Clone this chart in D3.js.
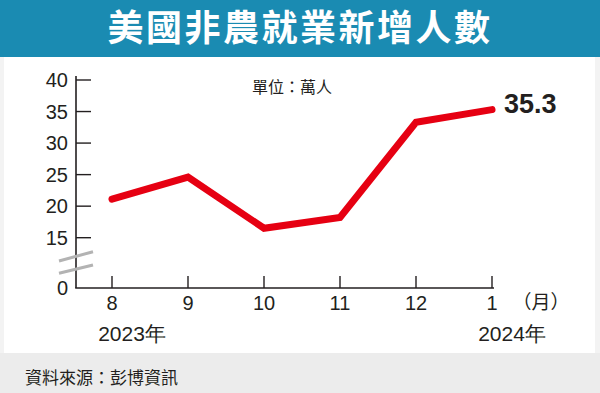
<!DOCTYPE html>
<html><head><meta charset="utf-8">
<script src="https://cdn.jsdelivr.net/npm/d3@7"></script>
<style>
html,body{margin:0;padding:0;background:#fff;}
svg{display:block;}
</style></head>
<body>
<svg id="c" width="600" height="393"></svg>
<script>
const months = ["8","9","10","11","12","1"];
const values = [21.1, 24.6, 16.5, 18.2, 33.3, 35.3];
const yTicks = [0, 15, 20, 25, 30, 35, 40];
const years = [{m:"8", label:"2023年"}, {m:"1", label:"2024年"}];
const title = "美國非農就業新增人數";
const unitLabel = "單位：萬人";
const sourceLabel = "資料來源：彭博資訊";
const lastLabel = "35.3";

const svg = d3.select("#c");
const cjk = "'Noto Sans CJK TC','Noto Sans CJK SC',sans-serif";
const num = "'Liberation Sans Narrow','Liberation Sans',Arial,sans-serif";

svg.append("rect").attr("x",0).attr("y",0).attr("width",600).attr("height",393).attr("fill","#f3f3f3");
svg.append("rect").attr("x",4).attr("y",56).attr("width",591).attr("height",297).attr("fill","#fff");
svg.append("rect").attr("x",0).attr("y",353).attr("width",600).attr("height",40).attr("fill","#ececec");
svg.append("rect").attr("x",0).attr("y",0).attr("width",600).attr("height",57).attr("fill","#1a8bb2");

svg.append("text").attr("x",300).attr("y",41).attr("text-anchor","middle")
  .attr("fill","#fff").attr("font-family",cjk).attr("font-weight","bold")
  .attr("font-size",36).attr("letter-spacing",2.5).text(title);

const x = d3.scalePoint().domain(months).range([112, 492]);
const y = d3.scaleLinear().domain([0, 15, 40]).range([288, 237.7, 80]);

svg.append("line").attr("x1",76).attr("x2",76).attr("y1",76).attr("y2",288)
  .attr("stroke","#231f20").attr("stroke-width",1.6);
svg.append("line").attr("x1",75.2).attr("x2",494).attr("y1",288).attr("y2",288)
  .attr("stroke","#231f20").attr("stroke-width",1.6);

yTicks.forEach(t=>{
  if(t>0){
    svg.append("line").attr("x1",76).attr("x2",91).attr("y1",y(t)).attr("y2",y(t))
      .attr("stroke","#231f20").attr("stroke-width",1.4);
  }
  svg.append("text").attr("x",68).attr("y",y(t)+7).attr("text-anchor","end")
    .attr("font-family",num).attr("font-size",20).attr("fill","#231f20").text(t);
});

[[261,251.7],[273.3,265]].forEach(([a,b])=>{
  svg.append("line").attr("x1",59).attr("x2",93).attr("y1",a).attr("y2",b)
    .attr("stroke","#b3b3b3").attr("stroke-width",3);
});

months.forEach(m=>{
  svg.append("line").attr("x1",x(m)).attr("x2",x(m)).attr("y1",276).attr("y2",288)
    .attr("stroke","#231f20").attr("stroke-width",1.4);
  svg.append("text").attr("x",x(m)).attr("y",310).attr("text-anchor","middle")
    .attr("font-family",num).attr("font-size",20).attr("fill","#231f20").text(m);
});
svg.append("text").attr("x",541).attr("y",309).attr("text-anchor","middle")
  .attr("font-family",cjk).attr("font-size",19).attr("fill","#231f20").text("（月）");

years.forEach(d=>{
  svg.append("text").attr("x",x(d.m)+20).attr("y",341).attr("text-anchor","middle")
    .attr("font-family",num).attr("font-size",21).attr("fill","#231f20")
    .text(d.label);
});

svg.append("text").attr("x",292).attr("y",93).attr("text-anchor","middle")
  .attr("font-family",cjk).attr("font-size",16).attr("fill","#231f20").text(unitLabel);

const line = d3.line().x((d,i)=>x(months[i])).y(d=>y(d));
svg.append("path").datum(values).attr("d",line).attr("fill","none")
  .attr("stroke","#e60012").attr("stroke-width",7)
  .attr("stroke-linecap","round").attr("stroke-linejoin","miter");

svg.append("text").attr("x",x(months[5])+12).attr("y",y(values[5])+3)
  .attr("font-family",num).attr("font-weight","bold").attr("font-size",27)
  .attr("fill","#231f20").text(lastLabel);

svg.append("text").attr("x",25).attr("y",384)
  .attr("font-family",cjk).attr("font-size",17).attr("fill","#231f20").text(sourceLabel);
</script>
</body></html>
